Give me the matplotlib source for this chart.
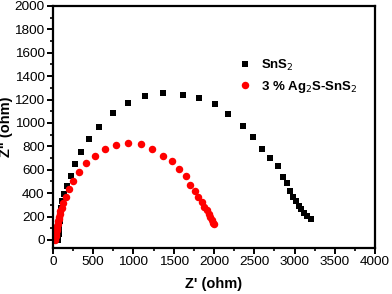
import matplotlib
matplotlib.use('Agg')
from matplotlib import pyplot as plt
from matplotlib.ticker import MultipleLocator

plt.rcParams['font.family'] = ['Liberation Sans', 'DejaVu Sans']

# SnS2 Nyquist data (Z', Z'')
sns2_x = [66, 68, 70, 73, 76, 80, 85, 90, 95, 112, 137, 170, 220, 277, 352, 443,
          575, 741, 932, 1139, 1370, 1611, 1814, 2008, 2170, 2356, 2489, 2593,
          2690, 2789, 2857, 2905, 2940, 2981, 3016, 3052, 3085, 3118, 3151, 3199]
sns2_y = [0, 25, 50, 75, 100, 130, 160, 195, 275, 329, 389, 460, 549, 645, 754, 859,
          964, 1081, 1169, 1232, 1255, 1241, 1215, 1161, 1073, 970, 882, 779,
          698, 631, 538, 487, 415, 367, 330, 292, 261, 229, 207, 181]

# 3 % Ag2S-SnS2 data
ag_x = [28, 32, 36, 40, 44, 48, 52, 56, 61, 66, 71, 77, 84, 92, 108, 128, 158,
        199, 252, 323, 414, 522, 646, 783, 936, 1093, 1230, 1362, 1476, 1569,
        1650, 1702, 1762, 1807, 1849, 1880, 1907, 1932, 1950, 1971, 1991, 2002]
ag_y = [0, 15, 30, 48, 66, 84, 102, 120, 140, 160, 180, 200, 222, 246, 275, 318, 369,
        434, 503, 580, 654, 720, 779, 810, 827, 816, 779, 721, 672, 603,
        544, 467, 418, 366, 320, 285, 254, 225, 198, 171, 148, 132]

fig = plt.figure(figsize=(3.92, 2.94), dpi=100)
ax = fig.add_axes([0.135, 0.156, 0.822, 0.824])

ax.plot(sns2_x, sns2_y, 's', color='black', markersize=4.4, markeredgewidth=0,
        label='SnS$_2$')
ax.plot(ag_x, ag_y, 'o', color='#ff0000', markersize=5.4, markeredgewidth=0,
        label='3 % Ag$_2$S-SnS$_2$')

ax.set_xlim(0, 4000)
ax.set_ylim(-70, 2000)
ax.xaxis.set_major_locator(MultipleLocator(500))
ax.xaxis.set_minor_locator(MultipleLocator(250))
ax.yaxis.set_major_locator(MultipleLocator(200))
ax.yaxis.set_minor_locator(MultipleLocator(100))

for s in ax.spines.values():
    s.set_linewidth(1.6)
ax.tick_params(which='major', direction='out', length=4, width=1.4,
               labelsize=9.7, pad=2)
ax.tick_params(which='minor', direction='out', length=2.5, width=1.2)

ax.set_xlabel("Z' (ohm)", fontsize=10.5, fontweight='bold', labelpad=6)
ax.set_ylabel('Z" (ohm)', fontsize=10.5, fontweight='bold', labelpad=1)

ax.legend(loc='upper left', bbox_to_anchor=(0.535, 0.835), frameon=False,
          handlelength=1.2, handletextpad=0.6, labelspacing=0.45,
          prop={'weight': 'bold', 'size': 9.5})

fig.savefig('out.png', dpi=100)
